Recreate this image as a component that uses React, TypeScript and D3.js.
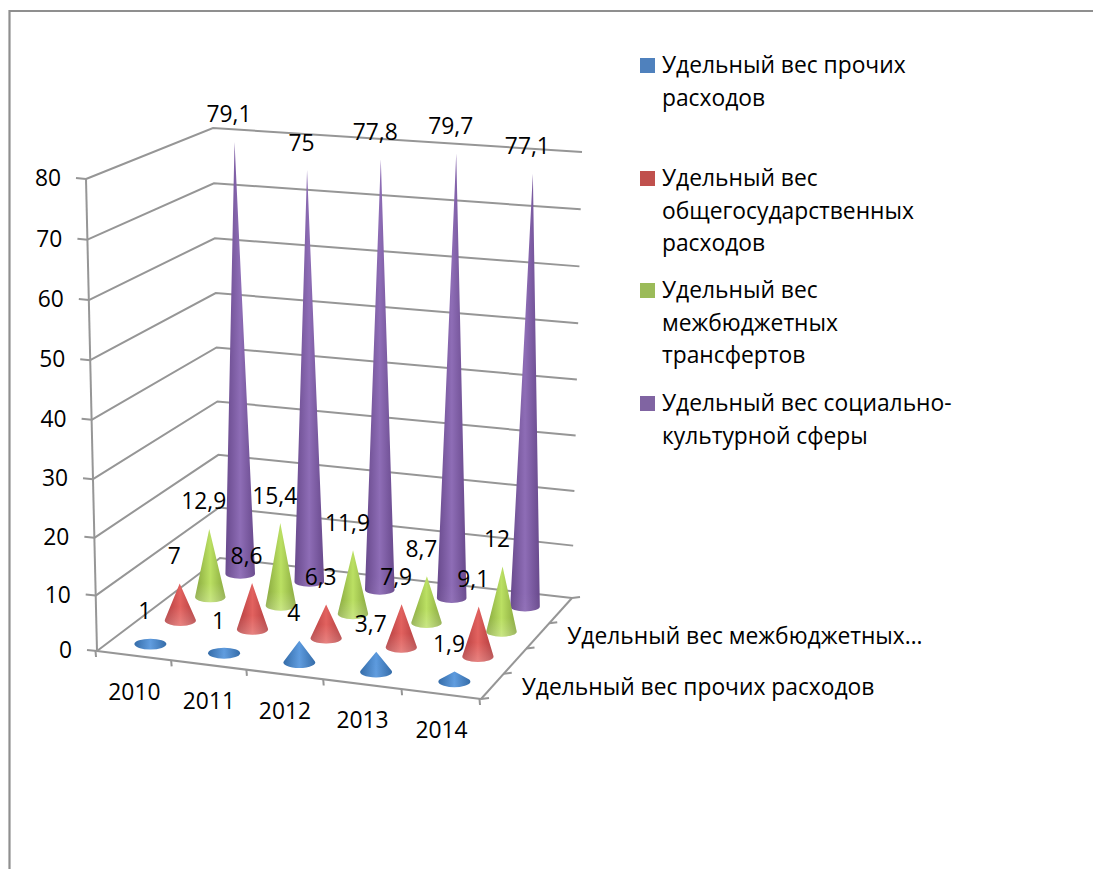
import React from "react";
import * as d3 from "d3";

const years = ["2010", "2011", "2012", "2013", "2014"];
const seriesNames = [
  "Удельный вес прочих расходов",
  "Удельный вес общегосударственных расходов",
  "Удельный вес межбюджетных трансфертов",
  "Удельный вес социально-культурной сферы",
];
const otherValues = [1, 1, 4, 3.7, 1.9];
const generalValues = [7, 8.6, 6.3, 7.9, 9.1];
const transferValues = [12.9, 15.4, 11.9, 8.7, 12];
const socialValues = [79.1, 75, 77.8, 79.7, 77.1];
const allValues = [otherValues, generalValues, transferValues, socialValues];
const yTicks = [0, 10, 20, 30, 40, 50, 60, 70, 80];

const legendLines = [
  ["Удельный вес прочих", "расходов"],
  ["Удельный вес", "общегосударственных", "расходов"],
  ["Удельный вес", "межбюджетных", "трансфертов"],
  ["Удельный вес социально-", "культурной сферы"],
];
const legendTops = [58, 171, 283, 396];
const depthLabels = ["Удельный вес прочих расходов", "Удельный вес межбюджетных…"];

const colors = [
  { flat: "#4f81bd", edge: "#2f68a6", mid: "#5c9ade" },
  { flat: "#c0504d", edge: "#b03a3c", mid: "#e2625f" },
  { flat: "#9bbb59", edge: "#86a63c", mid: "#bbe063" },
  { flat: "#8064a2", edge: "#68498c", mid: "#8e6db6" },
];

type P = [number, number];
const FL: P = [97, 651], FR: P = [481, 699], BR: P = [572, 598], BL: P = [220, 558];
const FLt: P = [86, 179], FRt: P = [490, 212], BRt: P = [582, 152], BLt: P = [213, 128];

const lerp = (a: P, b: P, t: number): P => [a[0] + (b[0] - a[0]) * t, a[1] + (b[1] - a[1]) * t];
const uScale = d3.scaleBand<string>().domain(years).range([0, 1]);
const vScale = d3.scaleBand<string>().domain(seriesNames).range([0, 1]);
const hScale = d3.scalePow().exponent(1.03).domain([0, 80]).range([0, 1]);
const uWarp = d3.scaleLinear().domain([0, 0.1, 0.3, 0.5, 0.7, 0.9, 1]).range([0, 0.1, 0.294, 0.492, 0.694, 0.9, 1]);

function project(uRaw: number, v: number, val: number): P {
  const u = uWarp(uRaw);
  const g = lerp(lerp(FL, FR, u), lerp(BL, BR, u), v);
  const t = lerp(lerp(FLt, FRt, u), lerp(BLt, BRt, u), v);
  return lerp(g, t, hScale(val));
}

const FONT = "'Open Sans', sans-serif";
const FS = 22.8;
const GRID = "#969696";

function conePath(b: P, a: P, rx: number, ry: number) {
  const h = b[1] - a[1];
  if (h <= ry * 1.02) {
    return `M${b[0] - rx},${b[1]}A${rx},${ry} 0 1 0 ${b[0] + rx},${b[1]}A${rx},${ry} 0 1 0 ${b[0] - rx},${b[1]}Z`;
  }
  const yOff = (ry * ry) / h;
  const xOff = rx * Math.sqrt(1 - (ry * ry) / (h * h));
  const y = b[1] - yOff;
  return `M${a[0]},${a[1]}L${b[0] + xOff},${y}A${rx},${ry} 0 1 1 ${b[0] - xOff},${y}Z`;
}

export default function App() {
  const uMid = (c: string) => (uScale(c) as number) + uScale.bandwidth() / 2;
  const vMid = (s: string) => (vScale(s) as number) + vScale.bandwidth() / 2;
  const cones = seriesNames
    .map((s, j) => ({ s, j }))
    .reverse()
    .flatMap(({ s, j }) =>
      years.map((c, i) => {
        const val = allValues[j][i];
        const base = project(uMid(c), vMid(s), 0);
        const apex = project(uMid(c), vMid(s), val);
        const rx = 16.2 - 1.6 * vMid(s);
        return { key: `${j}-${i}`, j, val, base, apex, rx, ry: rx * 0.34 };
      })
    );
  const grid = yTicks.map((t) => {
    const a = project(0, 0, t), b = project(0, 1, t), c = project(1, 1, t);
    return { t, a, b, c };
  });
  const catTicks = d3.range(0, 6).map((i) => project(i / 5, 0, 0));
  const depthTicks = d3.range(0, 5).map((i) => project(1, i / 4, 0));

  return (
    <svg
      width={1093}
      height={869}
      style={{ position: "absolute", left: 0, top: 0, display: "block", background: "#fff" }}
      fontFamily={FONT}
      fontSize={FS}
    >
      <defs>
        {colors.map((c, j) => (
          <linearGradient key={j} id={`g${j}`} x1="0" x2="1" y1="0" y2="0">
            <stop offset="0" stopColor={c.edge} />
            <stop offset="0.5" stopColor={c.mid} />
            <stop offset="1" stopColor={c.edge} />
          </linearGradient>
        ))}
        {cones.map((k) => (
          <linearGradient
            key={k.key}
            id={`h${k.key}`}
            gradientUnits="userSpaceOnUse"
            x1="0"
            x2="0"
            y1={k.base[1] - 14}
            y2={k.base[1] + k.ry}
          >
            <stop offset="0" stopColor="#fff" stopOpacity={0} />
            <stop offset="1" stopColor="#fff" stopOpacity={k.j === 0 || k.j === 3 ? 0.04 : 0.22} />
          </linearGradient>
        ))}
      </defs>

      <path d="M1093,11H9.5V869" fill="none" stroke="#8f8f8f" strokeWidth={2.2} />

      {grid.map((g) => (
        <g key={g.t}>
          <path d={d3.line()([g.a, g.b, g.c]) as string} fill="none" stroke={GRID} strokeWidth={2} />
          <line x1={g.a[0] - 10} y1={g.a[1] - 1} x2={g.a[0]} y2={g.a[1]} stroke={GRID} strokeWidth={2} />
          <text x={g.a[0] - 25} y={g.a[1] + 7} textAnchor="end" fill="#000">
            {g.t}
          </text>
        </g>
      ))}
      <line x1={FLt[0]} y1={FLt[1]} x2={FL[0]} y2={FL[1]} stroke={GRID} strokeWidth={2} />
      <line x1={FL[0]} y1={FL[1]} x2={FR[0]} y2={FR[1]} stroke={GRID} strokeWidth={2} />
      <line x1={FR[0]} y1={FR[1]} x2={BR[0]} y2={BR[1]} stroke={GRID} strokeWidth={2} />
      {catTicks.map((p, i) => (
        <line key={i} x1={p[0] - 1.5} y1={p[1]} x2={p[0] - 1} y2={p[1] + 6} stroke={GRID} strokeWidth={2} />
      ))}
      {depthTicks.map((p, i) => (
        <line key={i} x1={p[0]} y1={p[1]} x2={p[0] + 8} y2={p[1] - 1} stroke={GRID} strokeWidth={2} />
      ))}

      {cones.map((k) => {
        const d = conePath(k.base, k.apex, k.rx, k.ry);
        return (
          <g key={k.key}>
            <path d={d} fill={`url(#g${k.j})`} />
            <path d={d} fill={`url(#h${k.key})`} />
          </g>
        );
      })}

      {cones.map((k) => (
        <text key={k.key} x={k.apex[0] - 5.5} y={k.apex[1] - 19.5} textAnchor="middle" fill="#000">
          {String(k.val).replace(".", ",")}
        </text>
      ))}

      {years.map((c) => {
        const p = project(uMid(c), 0, 0);
        return (
          <text key={c} x={p[0] - 1} y={p[1] + 44} textAnchor="middle" fill="#000">
            {c}
          </text>
        );
      })}

      {depthLabels.map((l, i) => {
        const p = project(1, (2 * i + 1) / 4, 0);
        return (
          <text key={l} x={p[0] + 18} y={p[1] + 21} fill="#000">
            {l}
          </text>
        );
      })}

      {legendLines.map((lines, j) => (
        <g key={j}>
          <rect x={640} y={legendTops[j]} width={15} height={15} fill={colors[j].flat} />
          {lines.map((t, n) => (
            <text key={n} x={662} y={legendTops[j] + 15 + n * 32.7} fill="#000">
              {t}
            </text>
          ))}
        </g>
      ))}
    </svg>
  );
}
